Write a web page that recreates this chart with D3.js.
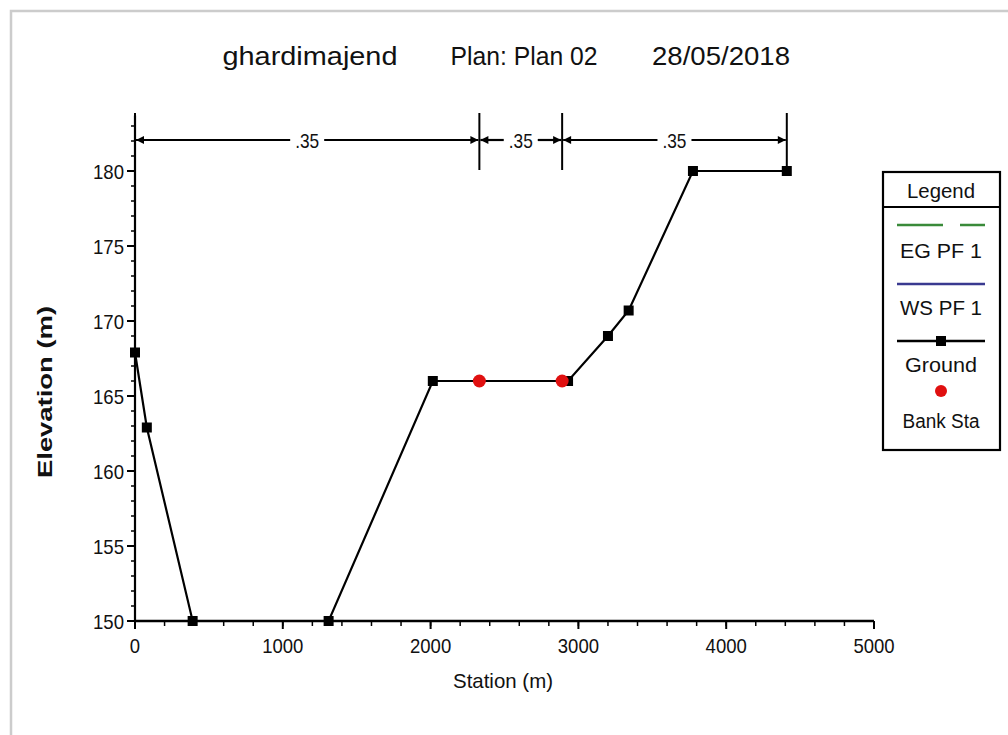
<!DOCTYPE html>
<html><head><meta charset="utf-8">
<script src="https://cdn.jsdelivr.net/npm/d3@7"></script>
<style>body{margin:0;background:#fff}svg{display:block}text{font-family:"Liberation Sans",Arial,sans-serif;fill:#111}</style>
</head><body><svg id="c" width="1008" height="735"></svg>
<script>
const station = [0, 80, 390, 1310, 2015, 2930, 3200, 3340, 3775, 4410];
const elevation = [167.9, 162.9, 150, 150, 166, 166, 169, 170.7, 180, 180];
const bankStation = [2330, 2890];
const bankElevation = [166, 166];
const nBreaks = [0, 2330, 2890, 4410];
const nValues = [".35", ".35", ".35"];
const xTicks = [0, 1000, 2000, 3000, 4000, 5000];
const yTicks = [150, 155, 160, 165, 170, 175, 180];
const legendItems = ["EG PF 1", "WS PF 1", "Ground", "Bank Sta"];
const titleParts = ["ghardimajend", "Plan: Plan 02", "28/05/2018"];

const svg = d3.select("#c");
svg.append("path").attr("d","M11,735 L11,11 L1008,11").attr("fill","none").attr("stroke","#ccc").attr("stroke-width",2.5);

const x = d3.scaleLinear().domain([0,5000]).range([135,874]);
const y = d3.scaleLinear().domain([150,180]).range([621,171]);

function txt(px,py,s,size,len,anchor){
  const t = svg.append("text").attr("x",px).attr("y",py).attr("text-anchor",anchor||"middle").attr("font-size",size).text(s);
  if(len){ t.attr("textLength",len).attr("lengthAdjust","spacingAndGlyphs"); }
  return t;
}
// title
txt(310,65,titleParts[0],25,175);
txt(524,65,titleParts[1],25,147);
txt(721,65,titleParts[2],25,138);

// y axis
const g = svg.append("g");
g.append("line").attr("x1",135).attr("x2",135).attr("y1",y(150)).attr("y2",y(183.7)).attr("stroke","#000").attr("stroke-width",2.2);
d3.range(150,184,1).forEach(v=>{
  g.append("line").attr("x1",131).attr("x2",135).attr("y1",y(v)).attr("y2",y(v)).attr("stroke","#000").attr("stroke-width",1.5);
});
yTicks.forEach(v=>{
  g.append("line").attr("x1",127).attr("x2",135).attr("y1",y(v)).attr("y2",y(v)).attr("stroke","#000").attr("stroke-width",2);
  txt(124,y(v)+7.5,String(v),21,31,"end");
});
// x axis
g.append("line").attr("x1",x(0)).attr("x2",x(5000)).attr("y1",621).attr("y2",621).attr("stroke","#000").attr("stroke-width",2.5);
d3.range(0,5001,200).forEach(v=>{
  g.append("line").attr("x1",x(v)).attr("x2",x(v)).attr("y1",621).attr("y2",626).attr("stroke","#000").attr("stroke-width",1.5);
});
xTicks.forEach(v=>{
  g.append("line").attr("x1",x(v)).attr("x2",x(v)).attr("y1",621).attr("y2",629).attr("stroke","#000").attr("stroke-width",2);
  const s=String(v);
  txt(x(v),653,s,21,s.length*10.3);
});
txt(503,688,"Station (m)",21,100);
svg.append("text").attr("transform","translate(52,392) rotate(-90)").attr("text-anchor","middle").attr("font-size",20).attr("font-weight","bold")
  .attr("textLength",172).attr("lengthAdjust","spacingAndGlyphs").text("Elevation (m)");

// Manning n
const ny = 140;
nBreaks.forEach(s=>{
  svg.append("line").attr("x1",x(s)).attr("x2",x(s)).attr("y1",113).attr("y2",170).attr("stroke","#000").attr("stroke-width",2);
});
for(let i=0;i<nValues.length;i++){
  const a=x(nBreaks[i]), b=x(nBreaks[i+1]), m=(a+b)/2, half=17;
  svg.append("line").attr("x1",a+1).attr("x2",m-half).attr("y1",ny).attr("y2",ny).attr("stroke","#000").attr("stroke-width",2.2);
  svg.append("line").attr("x1",m+half).attr("x2",b-1).attr("y1",ny).attr("y2",ny).attr("stroke","#000").attr("stroke-width",2.2);
  svg.append("path").attr("d",`M${a+1},${ny} l8,-4 l0,8 z`).attr("fill","#000");
  svg.append("path").attr("d",`M${b-1},${ny} l-8,-4 l0,8 z`).attr("fill","#000");
  txt(m,ny+8,nValues[i],21,24);
}

// ground
const pts = station.map((s,i)=>[s,elevation[i]]);
svg.append("path").datum(pts).attr("d",d3.line().x(d=>x(d[0])).y(d=>y(d[1]))).attr("fill","none").attr("stroke","#000").attr("stroke-width",2.2);
svg.selectAll(".sq").data(pts).enter().append("rect").attr("x",d=>x(d[0])-5).attr("y",d=>y(d[1])-5).attr("width",10).attr("height",10).attr("fill","#000");
svg.selectAll(".bk").data(bankStation.map((s,i)=>[s,bankElevation[i]])).enter().append("circle")
  .attr("cx",d=>x(d[0])).attr("cy",d=>y(d[1])).attr("r",6.5).attr("fill","#e01010");

// legend
const L = svg.append("g");
L.append("rect").attr("x",883).attr("y",172).attr("width",117).attr("height",278).attr("fill","#fff").attr("stroke","#000").attr("stroke-width",2.2);
L.append("line").attr("x1",883).attr("x2",1000).attr("y1",207).attr("y2",207).attr("stroke","#000").attr("stroke-width",2.2);
txt(941,198,"Legend",20,68);
L.append("line").attr("x1",897).attr("x2",985).attr("y1",225).attr("y2",225).attr("stroke","#3a8a3a").attr("stroke-width",2.5).attr("stroke-dasharray","46,17");
txt(941,258,legendItems[0],20,82);
L.append("line").attr("x1",897).attr("x2",985).attr("y1",284).attr("y2",284).attr("stroke","#3a3a90").attr("stroke-width",2.5);
txt(941,315,legendItems[1],20,82);
L.append("line").attr("x1",897).attr("x2",985).attr("y1",341).attr("y2",341).attr("stroke","#000").attr("stroke-width",2.5);
L.append("rect").attr("x",936).attr("y",336).attr("width",10).attr("height",10).attr("fill","#000");
txt(941,372,legendItems[2],20,72);
L.append("circle").attr("cx",941).attr("cy",391).attr("r",6).attr("fill","#e01010");
txt(941,428,legendItems[3],20,77);
</script></body></html>
